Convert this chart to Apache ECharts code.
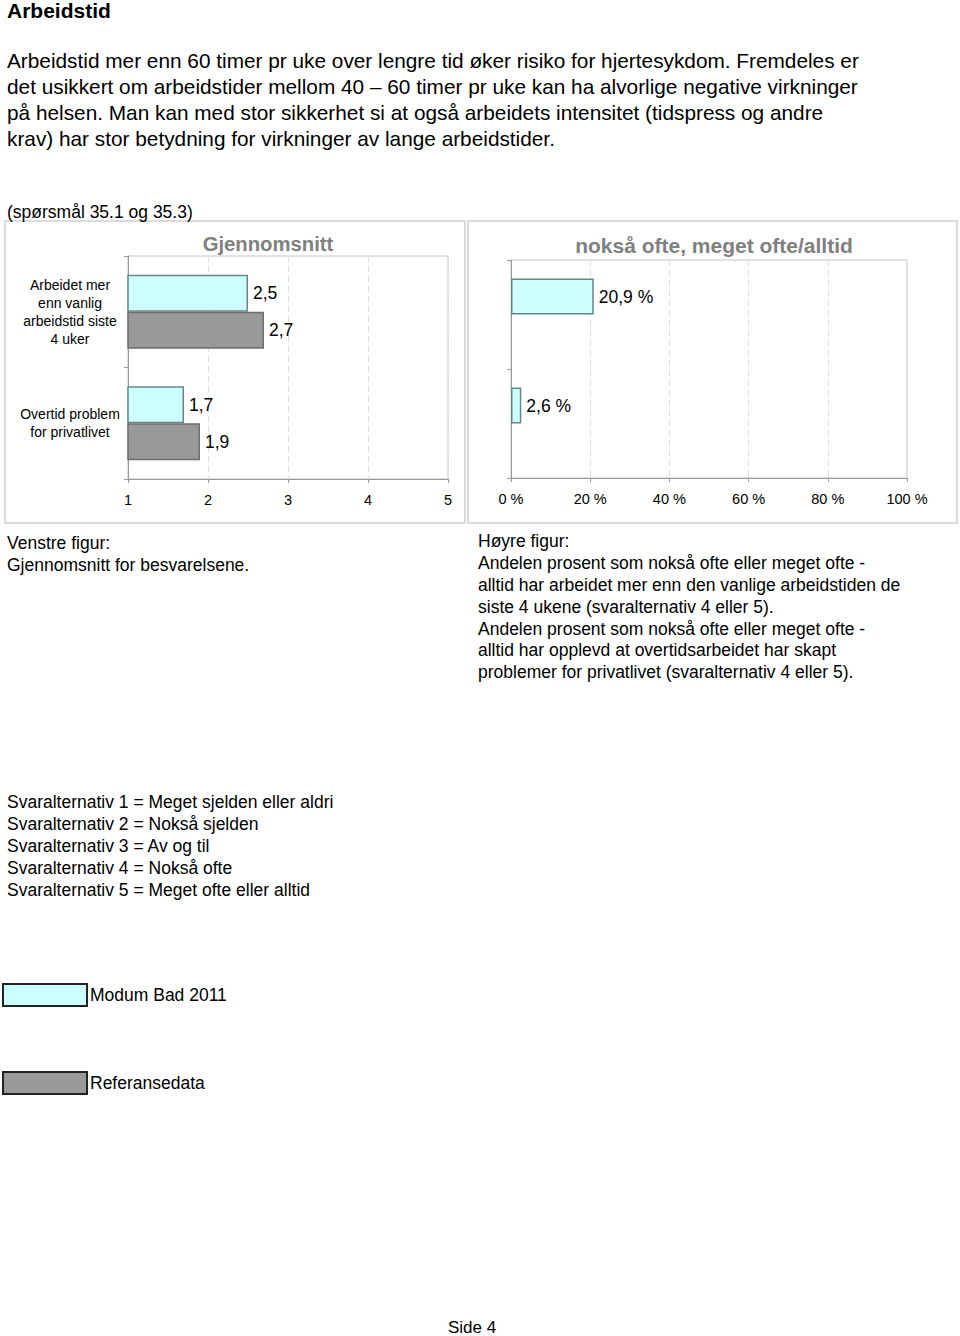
<!DOCTYPE html>
<html>
<head>
<meta charset="utf-8">
<script src="https://cdn.jsdelivr.net/npm/echarts@6/dist/echarts.min.js"></script>
<style>
html,body{margin:0;padding:0;background:#fff;}
#c{width:960px;height:1336px;}
</style>
</head>
<body>
<div id="c"></div>
<script>
// ---- data ----
var categories = ['Arbeidet mer\nenn vanlig\narbeidstid siste\n4 uker', 'Overtid problem\nfor privatlivet'];
var seriesNames = ['Modum Bad 2011', 'Referansedata'];
var avgModum = [2.5, 1.7];
var avgRef = [2.7, 1.9];
var pctModum = [20.9, 2.6];
var pctRef = ['-', '-'];
var avgTicks = [1, 5, 1];       // min, max, interval
var pctTicks = [0, 100, 20];

var FONT = "'Liberation Sans', Arial, Helvetica, sans-serif";
var cyan = {color: '#ccffff', borderColor: '#6a8585', borderWidth: 1.5};
var grey = {color: '#999999', borderColor: '#6e6e6e', borderWidth: 1.5};
function fmt(v){ return String(v).replace('.', ','); }

function txt(x, y, text, size, opts){
  opts = opts || {};
  return {
    type: 'text', silent: true, z: 10,
    style: {
      x: x, y: y, text: text,
      fontSize: size, fontFamily: FONT,
      fontWeight: opts.weight || 'normal',
      fill: opts.fill || '#000',
      align: opts.align || 'left',
      verticalAlign: opts.valign || 'middle',
      lineHeight: opts.lh || undefined
    }
  };
}

var chart = echarts.init(document.getElementById('c'), null, {renderer: 'svg', width: 960, height: 1336});

var labelStyle = {show: true, position: 'right', distance: 5, fontSize: 17.5, color: '#000', fontFamily: FONT};

var option = {
  animation: false,
  textStyle: {fontFamily: FONT},
  grid: [
    {left: 128, top: 256, width: 320, height: 223, show: true, borderColor: '#c4c4c4', borderWidth: 1, containLabel: false},
    {left: 511, top: 260, width: 396, height: 218, show: true, borderColor: '#c4c4c4', borderWidth: 1, containLabel: false}
  ],
  xAxis: [
    {
      gridIndex: 0, type: 'value', min: avgTicks[0], max: avgTicks[1], interval: avgTicks[2],
      axisLine: {show: true, lineStyle: {color: '#999'}},
      axisTick: {show: true, length: 4, lineStyle: {color: '#999'}},
      axisLabel: {fontSize: 14.5, color: '#000', margin: 13, fontFamily: FONT},
      splitLine: {show: true, lineStyle: {color: '#e0e0e0', type: [6, 4]}}
    },
    {
      gridIndex: 1, type: 'value', min: pctTicks[0], max: pctTicks[1], interval: pctTicks[2],
      axisLine: {show: true, lineStyle: {color: '#999'}},
      axisTick: {show: true, length: 4, lineStyle: {color: '#999'}},
      axisLabel: {fontSize: 14.5, color: '#000', margin: 13, fontFamily: FONT, formatter: '{value} %'},
      splitLine: {show: true, lineStyle: {color: '#e0e0e0', type: [6, 4]}}
    }
  ],
  yAxis: [
    {
      gridIndex: 0, type: 'category', data: categories, inverse: true,
      axisLine: {show: true, lineStyle: {color: '#999'}},
      axisTick: {show: true, length: 4, lineStyle: {color: '#999'}},
      axisLabel: {fontSize: 14, color: '#000', lineHeight: 18, align: 'center', margin: 58, fontFamily: FONT},
      splitLine: {show: false}
    },
    {
      gridIndex: 1, type: 'category', data: categories, inverse: true,
      axisLine: {show: true, lineStyle: {color: '#999'}},
      axisTick: {show: true, length: 4, lineStyle: {color: '#999'}},
      axisLabel: {show: false},
      splitLine: {show: false}
    }
  ],
  legend: {
    orient: 'vertical', left: 2, top: 983, padding: 0,
    itemWidth: 84, itemHeight: 22, itemGap: 64,
    icon: 'rect',
    data: seriesNames,
    itemStyle: {borderColor: '#222', borderWidth: 2},
    textStyle: {fontSize: 17.5, color: '#000', fontFamily: FONT, padding: [0, 0, 0, -2]},
    selectedMode: false
  },
  series: [
    {name: seriesNames[0], type: 'bar', xAxisIndex: 0, yAxisIndex: 0, data: avgModum,
     barWidth: 37, barGap: '0%', itemStyle: cyan,
     label: Object.assign({formatter: function(p){return fmt(p.value);}}, labelStyle)},
    {name: seriesNames[1], type: 'bar', xAxisIndex: 0, yAxisIndex: 0, data: avgRef,
     barWidth: 37, barGap: '0%', itemStyle: grey,
     label: Object.assign({formatter: function(p){return fmt(p.value);}}, labelStyle)},
    {name: seriesNames[0], type: 'bar', xAxisIndex: 1, yAxisIndex: 1, data: pctModum,
     barWidth: 36, barGap: '0%', itemStyle: cyan,
     label: Object.assign({formatter: function(p){return fmt(p.value) + ' %';}}, labelStyle)},
    {name: seriesNames[1], type: 'bar', xAxisIndex: 1, yAxisIndex: 1, data: pctRef,
     barWidth: 36, barGap: '0%', itemStyle: grey,
     label: Object.assign({formatter: function(p){return fmt(p.value) + ' %';}}, labelStyle)}
  ],
  graphic: [
    {type: 'rect', silent: true, z: 0, shape: {x: 5, y: 221, width: 460, height: 302}, style: {fill: 'none', stroke: '#cfcfcf', lineWidth: 1.5}},
    {type: 'rect', silent: true, z: 0, shape: {x: 468, y: 221, width: 489, height: 302}, style: {fill: 'none', stroke: '#cfcfcf', lineWidth: 1.5}},
    txt(7, 10, 'Arbeidstid', 21, {weight: 'bold'}),
    txt(7, 47, 'Arbeidstid mer enn 60 timer pr uke over lengre tid øker risiko for hjertesykdom. Fremdeles er\ndet usikkert om arbeidstider mellom 40 – 60 timer pr uke kan ha alvorlige negative virkninger\npå helsen. Man kan med stor sikkerhet si at også arbeidets intensitet (tidspress og andre\nkrav) har stor betydning for virkninger av lange arbeidstider.', 20.8, {valign: 'top', lh: 26}),
    txt(7, 212, '(spørsmål 35.1 og 35.3)', 17.5),
    txt(268, 244, 'Gjennomsnitt', 20.3, {align: 'center', fill: '#808080', weight: 'bold'}),
    txt(714, 245, 'nokså ofte, meget ofte/alltid', 21, {align: 'center', fill: '#808080', weight: 'bold'}),
    txt(7, 532, 'Venstre figur:\nGjennomsnitt for besvarelsene.', 17.5, {valign: 'top', lh: 22}),
    txt(478, 530, 'Høyre figur:\nAndelen prosent som nokså ofte eller meget ofte -\nalltid har arbeidet mer enn den vanlige arbeidstiden de\nsiste 4 ukene (svaralternativ 4 eller 5).\nAndelen prosent som nokså ofte eller meget ofte -\nalltid har opplevd at overtidsarbeidet har skapt\nproblemer for privatlivet (svaralternativ 4 eller 5).', 17.5, {valign: 'top', lh: 21.9}),
    txt(7, 791, 'Svaralternativ 1 = Meget sjelden eller aldri\nSvaralternativ 2 = Nokså sjelden\nSvaralternativ 3 = Av og til\nSvaralternativ 4 = Nokså ofte\nSvaralternativ 5 = Meget ofte eller alltid', 17.5, {valign: 'top', lh: 22}),
    txt(472, 1327, 'Side 4', 17, {align: 'center'})
  ]
};
chart.setOption(option);
</script>
</body>
</html>
